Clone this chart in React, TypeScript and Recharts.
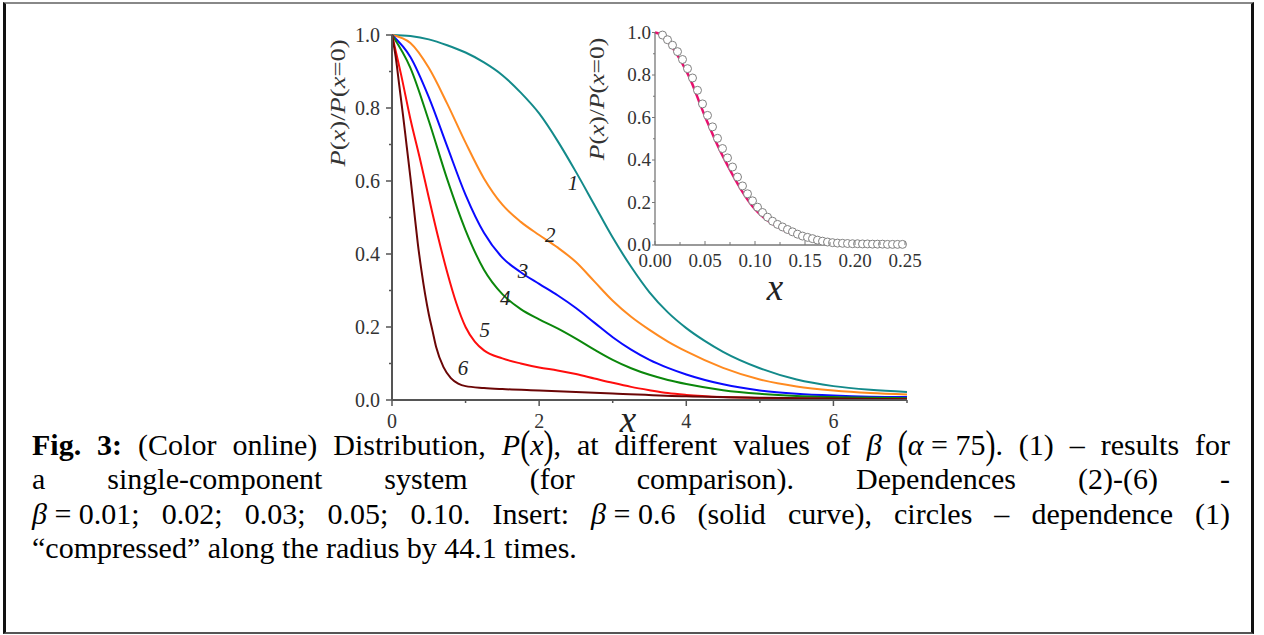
import React from 'react';
import { LineChart, ComposedChart, Line, Scatter, XAxis, YAxis, ReferenceDot } from 'recharts';

const serif = "'Liberation Serif', 'Times New Roman', Times, serif";

// main plot, curves 1-6
const c1X = [0, 0.25, 0.5, 0.75, 1, 1.25, 1.5, 1.75, 2, 2.25, 2.5, 2.75, 3, 3.25, 3.5, 3.75, 4, 4.25, 4.5, 5, 5.5, 6, 6.5, 7];
const c1Y = [1, 0.997, 0.988, 0.972, 0.952, 0.925, 0.89, 0.842, 0.785, 0.71, 0.625, 0.535, 0.445, 0.365, 0.295, 0.24, 0.197, 0.162, 0.132, 0.087, 0.056, 0.038, 0.028, 0.022];

const c2X = [0, 0.25, 0.5, 0.75, 1, 1.25, 1.5, 1.75, 2, 2.25, 2.5, 2.75, 3, 3.25, 3.5, 3.75, 4, 4.5, 5, 5.5, 6, 6.5, 7];
const c2Y = [1, 0.978, 0.91, 0.812, 0.705, 0.607, 0.535, 0.488, 0.452, 0.418, 0.378, 0.325, 0.272, 0.228, 0.192, 0.16, 0.133, 0.088, 0.056, 0.037, 0.026, 0.019, 0.015];

const c3X = [0, 0.25, 0.5, 0.75, 1, 1.25, 1.5, 1.75, 2, 2.25, 2.5, 2.75, 3, 3.25, 3.5, 3.75, 4, 4.5, 5, 5.5, 6, 6.5, 7];
const c3Y = [1, 0.94, 0.83, 0.695, 0.562, 0.458, 0.39, 0.35, 0.318, 0.287, 0.252, 0.212, 0.172, 0.138, 0.11, 0.088, 0.07, 0.043, 0.026, 0.017, 0.012, 0.009, 0.008];

const c4X = [0, 0.25, 0.5, 0.75, 1, 1.25, 1.5, 1.75, 2, 2.25, 2.5, 2.75, 3, 3.25, 3.5, 3.75, 4, 4.5, 5, 5.5, 6, 7];
const c4Y = [1, 0.91, 0.765, 0.605, 0.465, 0.357, 0.29, 0.249, 0.221, 0.196, 0.168, 0.138, 0.11, 0.087, 0.069, 0.055, 0.044, 0.027, 0.017, 0.011, 0.008, 0.005];

const c5X = [0, 0.125, 0.25, 0.375, 0.5, 0.625, 0.75, 0.875, 1, 1.125, 1.25, 1.5, 1.75, 2, 2.25, 2.5, 2.75, 3, 3.25, 3.5, 3.75, 4, 4.5, 5, 6, 7];
const c5Y = [1, 0.89, 0.77, 0.665, 0.555, 0.448, 0.35, 0.265, 0.2, 0.16, 0.136, 0.114, 0.1, 0.089, 0.081, 0.071, 0.059, 0.047, 0.036, 0.027, 0.019, 0.014, 0.008, 0.005, 0.003, 0.002];

const c6X = [0, 0.05, 0.1, 0.15, 0.2, 0.25, 0.3, 0.35, 0.4, 0.45, 0.5, 0.55, 0.6, 0.7, 0.8, 0.9, 1, 1.25, 1.5, 2, 2.5, 3, 4, 5, 6, 7];
const c6Y = [1, 0.94, 0.86, 0.78, 0.695, 0.61, 0.52, 0.43, 0.355, 0.29, 0.235, 0.19, 0.145, 0.09, 0.06, 0.045, 0.038, 0.033, 0.03, 0.026, 0.022, 0.018, 0.01, 0.006, 0.004, 0.002];

const curveColors = ['#138a8a', '#ff8a20', '#0a0aff', '#0b870b', '#ff0d0d', '#6b0606'];
const curveNames = ['1', '2', '3', '4', '5', '6'];
// where the italic curve numbers sit, in data units
const labelX = [2.46, 2.15, 1.78, 1.54, 1.26, 0.965];
const labelY = [0.595, 0.452, 0.356, 0.282, 0.192, 0.088];

const mainXTicks = [0, 1, 2, 3, 4, 5, 6, 7];
const mainYTicks = [0, 0.1, 0.2, 0.3, 0.4, 0.5, 0.6, 0.7, 0.8, 0.9, 1];

// insert: beta = 0.6 curve and compressed curve 1 (circles)
const insX = [0, 0.005, 0.01, 0.015, 0.02, 0.025, 0.03, 0.035, 0.04, 0.045, 0.05, 0.055, 0.06, 0.065, 0.07, 0.075, 0.08, 0.085, 0.09, 0.095, 0.1, 0.11, 0.12, 0.13, 0.14, 0.15, 0.16, 0.18, 0.2, 0.25];
const insY = [1, 0.992, 0.972, 0.945, 0.912, 0.873, 0.83, 0.783, 0.726, 0.664, 0.605, 0.55, 0.495, 0.445, 0.398, 0.353, 0.31, 0.269, 0.232, 0.198, 0.168, 0.124, 0.092, 0.068, 0.048, 0.033, 0.022, 0.01, 0.005, 0.002];

const circX = [0.0075, 0.0125, 0.0175, 0.0225, 0.0275, 0.0325, 0.0375, 0.0425, 0.0475, 0.0525, 0.0575, 0.0625, 0.0675, 0.0725, 0.0775, 0.0825, 0.0875, 0.0925, 0.0975, 0.1025, 0.1075, 0.1125, 0.1175, 0.1225, 0.1275, 0.1325, 0.1375, 0.1425, 0.1475, 0.1525, 0.1575, 0.1625, 0.1675, 0.1725, 0.1775, 0.1825, 0.1875, 0.1925, 0.1975, 0.2025, 0.2075, 0.2125, 0.2175, 0.2225, 0.2275, 0.2325, 0.2375, 0.2425, 0.2475];
const circY = [0.988, 0.966, 0.94, 0.91, 0.873, 0.83, 0.786, 0.728, 0.664, 0.61, 0.556, 0.502, 0.454, 0.41, 0.367, 0.32, 0.278, 0.241, 0.208, 0.178, 0.153, 0.131, 0.112, 0.097, 0.085, 0.073, 0.062, 0.051, 0.042, 0.036, 0.03, 0.023, 0.018, 0.014, 0.011, 0.009, 0.008, 0.007, 0.006, 0.006, 0.005, 0.005, 0.004, 0.004, 0.004, 0.003, 0.003, 0.003, 0.003];

const insXTicks = [0, 0.025, 0.05, 0.075, 0.1, 0.125, 0.15, 0.175, 0.2, 0.225, 0.25];
const insYTicks = [0, 0.1, 0.2, 0.3, 0.4, 0.5, 0.6, 0.7, 0.8, 0.9, 1];

const toPoints = (xs: number[], ys: number[]) => xs.map((x, i) => ({ x, y: ys[i] }));

const curves = [
  toPoints(c1X, c1Y),
  toPoints(c2X, c2Y),
  toPoints(c3X, c3Y),
  toPoints(c4X, c4Y),
  toPoints(c5X, c5Y),
  toPoints(c6X, c6Y),
];

const axisColor = '#555';

const MainXTick = (props: any) => {
  const { x, y, payload } = props;
  const major = payload.value % 2 === 0;
  return (
    <g>
      <line x1={x} y1={y} x2={x} y2={y + (major ? 6 : 3)} stroke={axisColor} strokeWidth={1.5} />
      {major && (
        <text x={x} y={y + 28} textAnchor="middle" fontSize={20} fontFamily={serif} fill="#333">
          {payload.value}
        </text>
      )}
    </g>
  );
};

const MainYTick = (props: any) => {
  const { x, y, payload } = props;
  const major = Math.round(payload.value * 10) % 2 === 0;
  return (
    <g>
      <line x1={x - (major ? 6 : 3)} y1={y} x2={x} y2={y} stroke={axisColor} strokeWidth={1.5} />
      {major && (
        <text x={x - 12} y={y + 7} textAnchor="end" fontSize={20} fontFamily={serif} fill="#333">
          {payload.value.toFixed(1)}
        </text>
      )}
    </g>
  );
};

const InsXTick = (props: any) => {
  const { x, y, payload } = props;
  const major = Math.round(payload.value * 1000) % 50 === 0;
  return (
    <g>
      <line x1={x} y1={y} x2={x} y2={y - (major ? 4 : 3)} stroke="#777" strokeWidth={1} />
      {major && (
        <text x={x} y={y + 22} textAnchor="middle" fontSize={19} fontFamily={serif} fill="#333">
          {payload.value.toFixed(2)}
        </text>
      )}
    </g>
  );
};

const InsYTick = (props: any) => {
  const { x, y, payload } = props;
  const major = Math.round(payload.value * 10) % 2 === 0;
  return (
    <g>
      <line x1={x - (major ? 3 : 2)} y1={y} x2={x} y2={y} stroke="#777" strokeWidth={1} />
      {major && (
        <text x={x - 4} y={y + 6} textAnchor="end" fontSize={19} fontFamily={serif} fill="#333">
          {payload.value.toFixed(1)}
        </text>
      )}
    </g>
  );
};

const Circle = (props: any) => (
  <circle cx={props.cx} cy={props.cy} r={4} fill="#fff" stroke="#808080" strokeWidth={1} />
);

const Big = ({ children }: { children: React.ReactNode }) => (
  <span style={{ display: 'inline-block', transform: 'scaleY(1.3)' }}>{children}</span>
);

const Grp = ({ children }: { children: React.ReactNode }) => (
  <span style={{ display: 'inline-block', whiteSpace: 'nowrap' }}>{children}</span>
);

const YTitle = ({ x, y, sx }: { x: number; y: number; sx: number }) => (
  <text
    transform={`translate(${x} ${y}) rotate(-90) scale(${sx} 1)`}
    textAnchor="middle"
    fontSize={20}
    fontFamily={serif}
    fill="#333"
  >
    <tspan fontStyle="italic">P</tspan>(<tspan fontStyle="italic">x</tspan>)/<tspan fontStyle="italic">P</tspan>(
    <tspan fontStyle="italic">x</tspan>=0)
  </text>
);

const lineStyle: React.CSSProperties = {
  position: 'absolute',
  left: 32,
  width: 1198,
  fontFamily: serif,
  fontSize: 30,
  lineHeight: '22px',
  color: '#000',
  whiteSpace: 'nowrap',
};

const justified: React.CSSProperties = { ...lineStyle, textAlign: 'justify', textAlignLast: 'justify', whiteSpace: 'normal' };

export default function App() {
  return (
    <div style={{ position: 'absolute', left: 0, top: 0, width: 1264, height: 635, overflow: 'hidden', background: '#fff' }}>
      <div
        style={{
          position: 'absolute',
          left: 3,
          top: 2,
          width: 1251,
          height: 632,
          boxSizing: 'border-box',
          borderLeft: '3px solid #111',
          borderRight: '3px solid #111',
          borderTop: '2px solid #888',
          borderBottom: '2px solid #555',
        }}
      />

      <div style={{ position: 'absolute', left: 330, top: 10 }}>
        <LineChart width={587} height={430} margin={{ top: 25, right: 10, bottom: 0, left: 0 }}>
          <XAxis
            type="number"
            dataKey="x"
            domain={[0, 7]}
            ticks={mainXTicks}
            interval={0}
            height={40}
            tickLine={false}
            tickSize={0}
            tickMargin={0}
            axisLine={{ stroke: axisColor, strokeWidth: 2 }}
            tick={(p: any) => <MainXTick {...p} />}
          />
          <YAxis
            type="number"
            domain={[0, 1]}
            ticks={mainYTicks}
            interval={0}
            width={62}
            tickLine={false}
            tickSize={0}
            tickMargin={0}
            axisLine={{ stroke: axisColor, strokeWidth: 2 }}
            tick={(p: any) => <MainYTick {...p} />}
          />
          {curves.map((data, i) => (
            <Line
              key={curveNames[i]}
              data={data}
              dataKey="y"
              type="monotone"
              stroke={curveColors[i]}
              strokeWidth={2}
              dot={false}
              isAnimationActive={false}
            />
          ))}
          {curveNames.map((name, i) => (
            <ReferenceDot
              key={`lbl-${name}`}
              x={labelX[i]}
              y={labelY[i]}
              r={1}
              fill="none"
              stroke="none"
              label={{
                value: name,
                position: 'center',
                fill: '#222',
                fontSize: 21,
                fontStyle: 'italic',
                fontFamily: serif,
              }}
            />
          ))}
        </LineChart>
      </div>

      <div style={{ position: 'absolute', left: 580, top: 10 }}>
        <ComposedChart width={360} height={265} margin={{ top: 22.5, right: 35, bottom: 0, left: 0 }}>
          <XAxis
            type="number"
            dataKey="x"
            domain={[0, 0.25]}
            ticks={insXTicks}
            interval={0}
            height={30}
            tickLine={false}
            tickSize={0}
            tickMargin={0}
            axisLine={{ stroke: '#777', strokeWidth: 1.3 }}
            tick={(p: any) => <InsXTick {...p} />}
          />
          <YAxis
            type="number"
            domain={[0, 1]}
            ticks={insYTicks}
            interval={0}
            width={75}
            tickLine={false}
            tickSize={0}
            tickMargin={0}
            axisLine={{ stroke: '#777', strokeWidth: 1.3 }}
            tick={(p: any) => <InsYTick {...p} />}
          />
          <Line
            data={toPoints(insX, insY)}
            dataKey="y"
            type="monotone"
            stroke="#e8106e"
            strokeWidth={2.5}
            dot={false}
            isAnimationActive={false}
          />
          <Scatter data={toPoints(circX, circY)} dataKey="y" shape={(p: any) => <Circle {...p} />} isAnimationActive={false} />
        </ComposedChart>
      </div>

      <svg width={1264} height={635} style={{ position: 'absolute', left: 0, top: 0, pointerEvents: 'none' }}>
        <YTitle x={345} y={103} sx={1.33} />
        <YTitle x={604} y={99} sx={1.28} />
        <text x={628} y={432} textAnchor="middle" fontSize={37} fontStyle="italic" fontFamily={serif} fill="#222">
          x
        </text>
        <text x={775} y={300} textAnchor="middle" fontSize={37} fontStyle="italic" fontFamily={serif} fill="#222">
          x
        </text>
      </svg>

      <div style={{ ...justified, top: 434 }}>
        <b>Fig. 3:</b> (Color online) Distribution,{' '}
        <Grp>
          <i>P</i>
          <Big>(</Big>
          <i>x</i>
          <Big>)</Big>,
        </Grp>{' '}
        at different values of <i>β</i>{' '}
        <Grp>
          <Big>(</Big>
          <i>α</i> = 75<Big>)</Big>.
        </Grp>{' '}
        (1) – results for
      </div>
      <div style={{ ...justified, top: 468 }}>
        a single-component system (for comparison). Dependences (2)-(6) -
      </div>
      <div style={{ ...justified, top: 503 }}>
        <Grp>
          <i>β</i> = 0.01;
        </Grp>{' '}
        0.02; 0.03; 0.05; 0.10. Insert:{' '}
        <Grp>
          <i>β</i> = 0.6
        </Grp>{' '}
        (solid curve), circles – dependence (1)
      </div>
      <div style={{ ...lineStyle, top: 537 }}>“compressed” along the radius by 44.1 times.</div>
    </div>
  );
}
